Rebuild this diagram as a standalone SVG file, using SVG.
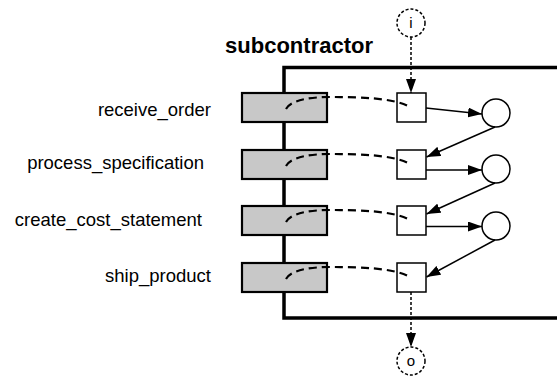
<svg xmlns="http://www.w3.org/2000/svg" width="557" height="378" viewBox="0 0 557 378">
<style>
  .lbl{font-family:"Liberation Sans",Arial,sans-serif;font-size:18.5px;fill:#000;text-anchor:end}
  .title{font-family:"Liberation Sans",Arial,sans-serif;font-size:22px;font-weight:bold;fill:#000;text-anchor:end}
  .port{font-family:"Liberation Sans",Arial,sans-serif;font-size:15px;fill:#000;text-anchor:middle}
  .act{fill:#c8c8c8;stroke:#000;stroke-width:2.2}
  .sq{fill:#fff;stroke:#000;stroke-width:1.5}
  .st{fill:#fff;stroke:#000;stroke-width:1.5}
  .pc{fill:#fff;stroke:#000;stroke-width:1.5;stroke-dasharray:3,2}
  .arc{fill:none;stroke:#000;stroke-width:1.5;marker-end:url(#ah)}
  .flow{fill:none;stroke:#000;stroke-width:1.5;stroke-dasharray:3,2;marker-end:url(#ah)}
  .link{fill:none;stroke:#000;stroke-width:2.2;stroke-dasharray:8,5}
</style>
<defs>
  <marker id="ah" markerUnits="userSpaceOnUse" markerWidth="14" markerHeight="10" refX="14" refY="5" orient="auto">
    <path d="M0,0 L14,5 L0,10 z" fill="#000"/>
  </marker>
</defs>
<rect width="557" height="378" fill="#fff"/>
<text class="title" x="373" y="53">subcontractor</text>
<g id="boundary">
  <path d="M557,67.5 H284 V318 H557" fill="none" stroke="#000" stroke-width="3.5"/>
</g>
<g id="receive_order">
  <text class="lbl" x="211" y="116">receive_order</text>
  <rect class="act" x="242" y="93" width="85" height="29"/>
  <rect class="sq" x="397" y="93" width="29" height="29"/>
</g>
<g id="process_specification">
  <text class="lbl" x="204" y="169">process_specification</text>
  <rect class="act" x="242" y="150" width="85" height="29"/>
  <rect class="sq" x="397" y="150" width="29" height="29"/>
</g>
<g id="create_cost_statement">
  <text class="lbl" x="202" y="226">create_cost_statement</text>
  <rect class="act" x="242" y="206" width="85" height="29"/>
  <rect class="sq" x="397" y="206" width="29" height="29"/>
</g>
<g id="ship_product">
  <text class="lbl" x="211" y="282">ship_product</text>
  <rect class="act" x="242" y="263" width="85" height="29"/>
  <rect class="sq" x="397" y="263" width="29" height="29"/>
</g>
<g id="state1"><circle class="st" cx="496" cy="113" r="14"/></g>
<g id="state2"><circle class="st" cx="496" cy="169" r="14"/></g>
<g id="state3"><circle class="st" cx="496" cy="226" r="14"/></g>
<g id="port_i">
  <circle class="pc" cx="411" cy="23" r="14"/>
  <text class="port" x="411" y="28">i</text>
</g>
<g id="port_o">
  <circle class="pc" cx="411" cy="361" r="14"/>
  <text class="port" x="411" y="366">o</text>
</g>
<g id="connectors">
  <path class="link" d="M286,109 C291,100 310,97 330,97 C360,97 392,98 408,106"/>
  <path class="link" d="M286,166 C291,157 310,154 330,154 C360,154 392,155 408,163"/>
  <path class="link" d="M286,222 C291,213 310,210 330,210 C360,210 392,211 408,219"/>
  <path class="link" d="M286,279 C291,270 310,267 330,267 C360,267 392,268 408,276"/>
  <line class="arc" x1="426" y1="108" x2="482" y2="114"/>
  <line class="arc" x1="495" y1="127" x2="426.5" y2="157"/>
  <line class="arc" x1="426" y1="170" x2="482" y2="170"/>
  <line class="arc" x1="495" y1="183" x2="426.5" y2="214"/>
  <line class="arc" x1="426" y1="226.5" x2="482" y2="226.5"/>
  <line class="arc" x1="495" y1="240" x2="426.5" y2="277"/>
  <line class="flow" x1="411" y1="37" x2="411" y2="93"/>
  <line class="flow" x1="411" y1="292" x2="411" y2="347"/>
</g>
</svg>
